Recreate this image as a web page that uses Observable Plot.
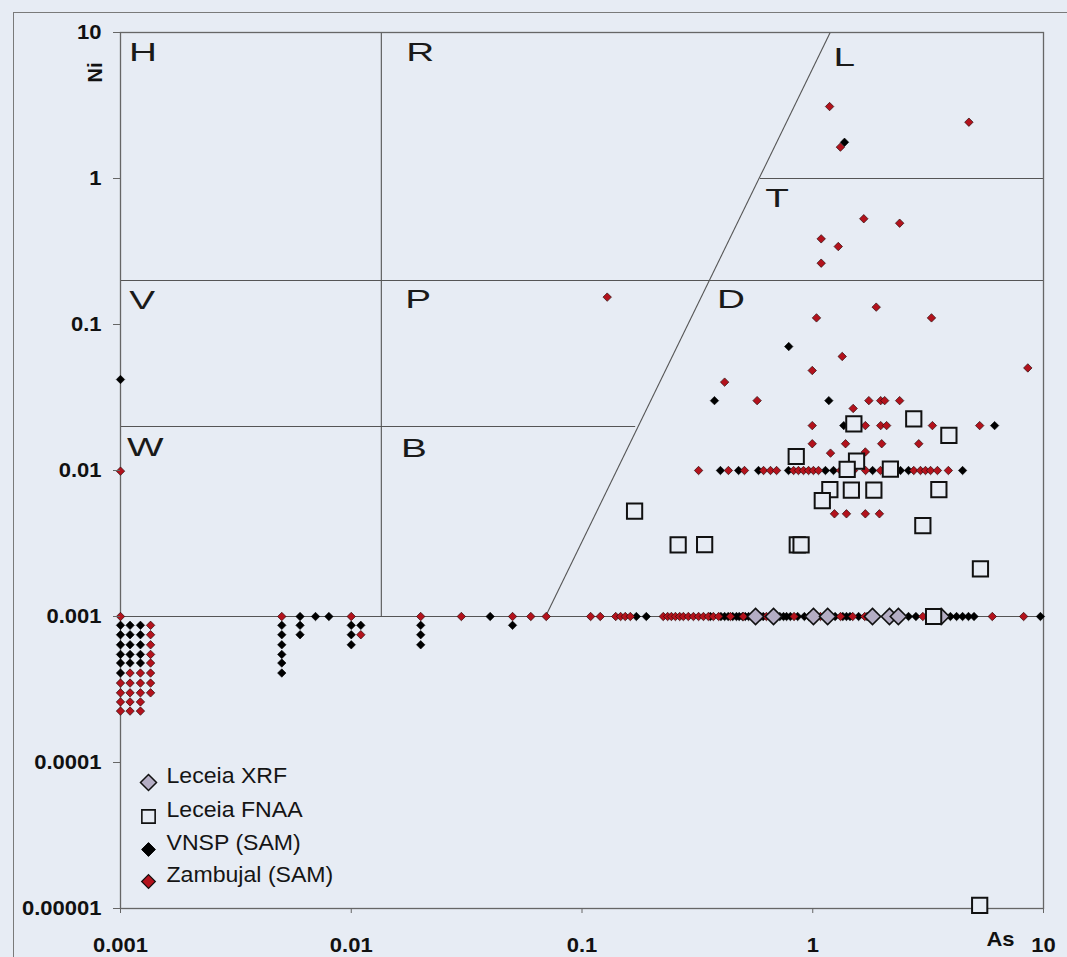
<!DOCTYPE html>
<html><head><meta charset="utf-8">
<script src="https://cdn.jsdelivr.net/npm/d3@7"></script>
<script src="https://cdn.jsdelivr.net/npm/@observablehq/plot@0.6"></script>
<style>
html,body{margin:0;padding:0;background:#e7ecf4;}
#wrap{position:relative;width:1067px;height:957px;overflow:hidden;background:#e7ecf4;}
#border{position:absolute;left:13px;top:12px;width:1200px;height:1100px;border-left:1.5px solid #7a7a7a;border-top:1.5px solid #7a7a7a;}
#chart{position:absolute;left:0;top:0;}
</style></head><body>
<div id="wrap"><div id="border"></div><div id="chart"></div></div>
<script>
// ---- axis ticks ----
const xTicks = [0.001, 0.01, 0.1, 1, 10];
const xTickLabels = ["0.001", "0.01", "0.1", "1", "10"];
const yTicks = [0.00001, 0.0001, 0.001, 0.01, 0.1, 1, 10];
const yTickLabels = ["0.00001", "0.0001", "0.001", "0.01", "0.1", "1", "10"];
const xLabel = "As";
const yLabel = "Ni";

// ---- legend ----
const seriesNames = ["Leceia XRF", "Leceia FNAA", "VNSP (SAM)", "Zambujal (SAM)"];

// ---- classification fields (As, Ni boundaries) ----
const regionLines = [
  {as1: 0.0135, ni1: 0.001, as2: 0.0135, ni2: 10},
  {as1: 0.001, ni1: 0.2, as2: 10, ni2: 0.2},
  {as1: 0.001, ni1: 0.02, as2: 0.17, ni2: 0.02},
  {as1: 0.59, ni1: 1, as2: 10, ni2: 1},
  {as1: 0.0695, ni1: 0.001, as2: 1.19, ni2: 10},
  {as1: 0.001, ni1: 0.001, as2: 10, ni2: 0.001}
];
const regionLabels = [
  {label: "H", as: 0.00125, ni: 7.2},
  {label: "R", as: 0.0199, ni: 7.2},
  {label: "L", as: 1.37, ni: 6.7},
  {label: "T", as: 0.70, ni: 0.72},
  {label: "V", as: 0.00124, ni: 0.146},
  {label: "P", as: 0.0195, ni: 0.147},
  {label: "D", as: 0.442, ni: 0.147},
  {label: "W", as: 0.00128, ni: 0.0142},
  {label: "B", as: 0.0187, ni: 0.014}
];

// ---- Leceia XRF [As, Ni] ----
const leceiaXRF = [
  [0.565, 0.001], [0.676, 0.001], [1.007, 0.001], [1.16, 0.001],
  [1.815, 0.001], [2.15, 0.001], [2.35, 0.001], [3.6, 0.001]
];

// ---- Leceia FNAA [As, Ni] ----
const leceiaFNAA = [
  [1.507, 0.0209], [2.74, 0.0226], [3.89, 0.0174], [0.848, 0.01247],
  [1.548, 0.01158], [1.41, 0.01016], [2.17, 0.0102], [1.186, 0.00741],
  [1.10, 0.00623], [1.47, 0.00734], [1.84, 0.00734], [3.52, 0.0074],
  [3.0, 0.0042], [0.34, 0.00311], [0.857, 0.0031], [0.89, 0.0031],
  [5.33, 0.00212], [0.169, 0.00526], [0.261, 0.0031], [5.29, 0.0000105],
  [3.34, 0.001]
];

// ---- VNSP (SAM) [As, Ni] ----
const vnspSAM = [
  [0.001, 0.00087], [0.001, 0.00075], [0.001, 0.00064], [0.001, 0.00055], [0.001, 0.00048], [0.001, 0.00041],
  [0.0011, 0.00087], [0.0011, 0.00075], [0.0011, 0.00064], [0.0011, 0.00055], [0.0011, 0.00048],
  [0.00122, 0.00087], [0.00122, 0.00075], [0.00122, 0.00064], [0.00122, 0.00055], [0.00122, 0.00048],
  [0.005, 0.00087], [0.005, 0.00075], [0.005, 0.00064], [0.005, 0.00055], [0.005, 0.00048], [0.005, 0.00041],
  [0.006, 0.001], [0.006, 0.00087], [0.006, 0.00075], [0.007, 0.001], [0.008, 0.001],
  [0.01, 0.00087], [0.01, 0.00075], [0.01, 0.00064], [0.011, 0.00087],
  [0.02, 0.00087], [0.02, 0.00075], [0.02, 0.00064], [0.04, 0.001], [0.05, 0.00087],
  [0.172, 0.001], [0.19, 0.001], [0.36, 0.001], [0.40, 0.001], [0.415, 0.001], [0.43, 0.001],
  [0.45, 0.001], [0.467, 0.001], [0.48, 0.001], [0.496, 0.001], [0.51, 0.001], [0.527, 0.001],
  [0.55, 0.001], [0.594, 0.001], [0.61, 0.001], [0.72, 0.001], [0.747, 0.001], [0.77, 0.001],
  [0.80, 0.001], [0.86, 0.001], [0.92, 0.001], [0.96, 0.001], [1.25, 0.001], [1.35, 0.001],
  [1.40, 0.001], [1.45, 0.001], [1.58, 0.001], [1.72, 0.001], [2.6, 0.001], [2.8, 0.001],
  [3.95, 0.001], [4.2, 0.001], [4.46, 0.001], [4.73, 0.001], [5.0, 0.001], [9.7, 0.001],
  [0.398, 0.01], [0.477, 0.01], [0.582, 0.01], [0.785, 0.01], [1.135, 0.01], [1.23, 0.01],
  [1.817, 0.01], [2.40, 0.01], [2.60, 0.01], [4.46, 0.01],
  [0.375, 0.0301], [1.174, 0.0301], [1.363, 0.0203], [6.14, 0.0203], [0.787, 0.0706],
  [1.373, 1.77], [0.001, 0.042]
];

// ---- Zambujal (SAM) [As, Ni] ----
const zambujalSAM = [
  [0.001, 0.00035], [0.001, 0.0003], [0.001, 0.00026], [0.001, 0.000225],
  [0.0011, 0.00041], [0.0011, 0.00035], [0.0011, 0.0003], [0.0011, 0.00026], [0.0011, 0.000225],
  [0.00122, 0.00041], [0.00122, 0.00035], [0.00122, 0.0003], [0.00122, 0.00026], [0.00122, 0.000225],
  [0.00135, 0.00087], [0.00135, 0.00075], [0.00135, 0.00064], [0.00135, 0.00055],
  [0.00135, 0.00048], [0.00135, 0.00041], [0.00135, 0.00035], [0.00135, 0.0003],
  [0.001, 0.001], [0.001, 0.0099],
  [0.005, 0.001], [0.01, 0.001], [0.011, 0.00075], [0.02, 0.001], [0.03, 0.001], [0.05, 0.001],
  [0.06, 0.001], [0.07, 0.001], [0.109, 0.001], [0.12, 0.001], [0.14, 0.001], [0.147, 0.001],
  [0.154, 0.001], [0.162, 0.001], [0.225, 0.001], [0.235, 0.001], [0.244, 0.001], [0.254, 0.001],
  [0.265, 0.001], [0.275, 0.001], [0.289, 0.001], [0.304, 0.001], [0.32, 0.001], [0.336, 0.001],
  [0.353, 0.001], [0.371, 0.001], [0.391, 0.001], [0.44, 0.001], [0.50, 0.001], [0.63, 0.001],
  [0.83, 0.001], [1.08, 0.001], [1.32, 0.001], [1.49, 0.001], [1.68, 0.001], [3.0, 0.001],
  [6.0, 0.001], [8.2, 0.001],
  [0.32, 0.01], [0.431, 0.01], [0.506, 0.01], [0.612, 0.01], [0.656, 0.01], [0.697, 0.01],
  [0.826, 0.01], [0.867, 0.01], [0.912, 0.01], [0.959, 0.01], [1.007, 0.01], [1.059, 0.01],
  [1.318, 0.01], [1.415, 0.01], [1.503, 0.01], [1.694, 0.01], [1.966, 0.01], [2.11, 0.01],
  [2.74, 0.01], [2.93, 0.01], [3.08, 0.01], [3.24, 0.01], [3.47, 0.01], [3.87, 0.01],
  [0.415, 0.0403], [0.574, 0.0301], [1.75, 0.0301], [1.97, 0.0301], [2.05, 0.0301], [2.38, 0.0301],
  [1.497, 0.0266], [0.995, 0.0203], [1.69, 0.0203], [1.97, 0.0203], [2.09, 0.0203], [3.30, 0.0203],
  [5.29, 0.0203], [0.995, 0.01525], [1.387, 0.01525], [1.99, 0.01525], [2.88, 0.01525],
  [1.194, 0.01315], [1.69, 0.0134], [1.242, 0.00505], [1.40, 0.00505], [1.69, 0.00505],
  [1.945, 0.00505], [0.995, 0.0484], [1.342, 0.0604], [1.038, 0.111], [1.884, 0.1315],
  [3.27, 0.111], [8.55, 0.0504], [0.1286, 0.154], [1.664, 0.53], [2.38, 0.494], [1.088, 0.386],
  [1.29, 0.342], [1.088, 0.263], [1.183, 3.11], [1.318, 1.64], [4.75, 2.43]
];

const toRows = arr => arr.map(([as, ni]) => ({as, ni}));
const RED = "#b3121c";
const BG = "#e7ecf4";
const FONT = "'Liberation Sans', Arial, sans-serif";

const legendStyles = [
  {symbol: "diamond2", r: 7.2, fill: "#b4adc4", stroke: "#111", strokeWidth: 1.5},
  {symbol: "square", r: 7.5, fill: BG, stroke: "#111", strokeWidth: 1.6},
  {symbol: "diamond2", r: 6.2, fill: "#000", stroke: "#000", strokeWidth: 1},
  {symbol: "diamond2", r: 6.2, fill: RED, stroke: "#111", strokeWidth: 1.2}
];
const legendDy = [-126, -92, -59, -27];

const legendMarks = seriesNames.flatMap((name, i) => [
  Plot.dot([name], {frameAnchor: "bottom-left", dx: 28, dy: legendDy[i], ...legendStyles[i]}),
  Plot.text([name], {frameAnchor: "bottom-left", dx: 46, dy: legendDy[i], text: d => d, textAnchor: "start", fontSize: 22, fill: "#151515"})
]);

const chart = Plot.plot({
  width: 1067, height: 957,
  marginLeft: 120, marginRight: 24, marginTop: 32, marginBottom: 49,
  style: {background: "transparent", fontFamily: FONT, color: "#111", overflow: "visible"},
  x: {type: "log", domain: [0.001, 10]},
  y: {type: "log", domain: [0.00001, 10]},
  marks: [
    Plot.link(regionLines, {x1: "as1", y1: "ni1", x2: "as2", y2: "ni2", stroke: "#555", strokeWidth: 1.1}),
    Plot.frame({stroke: "#666", strokeWidth: 1.3}),
    Plot.text(regionLabels, {x: "as", y: "ni", text: "label", fontSize: 25, fill: "#1a1a1a"}),
    Plot.dot(toRows(vnspSAM), {x: "as", y: "ni", symbol: "diamond2", r: 3.8, fill: "#000", stroke: "#000", strokeWidth: 0.6}),
    Plot.dot(toRows(zambujalSAM), {x: "as", y: "ni", symbol: "diamond2", r: 3.8, fill: RED, stroke: "#2a0a0a", strokeWidth: 0.7}),
    Plot.dot(toRows(leceiaXRF), {x: "as", y: "ni", symbol: "diamond2", r: 7.3, fill: "#b4adc4", stroke: "#111", strokeWidth: 1.6}),
    Plot.dot(toRows(leceiaFNAA), {x: "as", y: "ni", symbol: "square", r: 8.6, fill: BG, stroke: "#111", strokeWidth: 2}),
    ...legendMarks,
    Plot.axisY({ticks: yTicks, tickFormat: d => yTickLabels[yTicks.indexOf(d)], tickSize: 7, tickPadding: 12, fontSize: 20, fontWeight: "bold", stroke: "#666", label: null}),
    Plot.axisX({ticks: xTicks, tickFormat: d => xTickLabels[xTicks.indexOf(d)], tickSize: 5, tickPadding: 24, fontSize: 20, fontWeight: "bold", stroke: "#666", label: null}),
    Plot.text([xLabel], {frameAnchor: "bottom-right", dx: -29, dy: 37, text: d => d, fontSize: 20, fontWeight: "bold", fill: "#111"}),
    Plot.text([yLabel], {frameAnchor: "top-left", dx: -33, dy: 50, text: d => d, fontSize: 20, fontWeight: "bold", rotate: -90, fill: "#111"})
  ]
});

// horizontal stretch of the scanned lettering
const regionSet = new Set(regionLabels.map(d => d.label));
const legendSet = new Set(seriesNames);
d3.select(chart).selectAll("text").each(function() {
  const t = this.textContent;
  const tr = this.getAttribute("transform") || "";
  let s = 1;
  if (regionSet.has(t)) s = 1.55;
  else if (legendSet.has(t)) s = 1.05;
  else if (t === xLabel || yTickLabels.includes(t) || xTickLabels.includes(t)) s = 1.1;
  if (s !== 1) this.setAttribute("transform", tr + ` scale(${s},1)`);
});
d3.select(chart).selectAll("text").style("font-weight", function() {
  const t = this.textContent;
  return (t === xLabel || t === yLabel || yTickLabels.includes(t) || xTickLabels.includes(t)) ? "bold" : null;
});
document.getElementById("chart").appendChild(chart);
</script>
</body></html>
